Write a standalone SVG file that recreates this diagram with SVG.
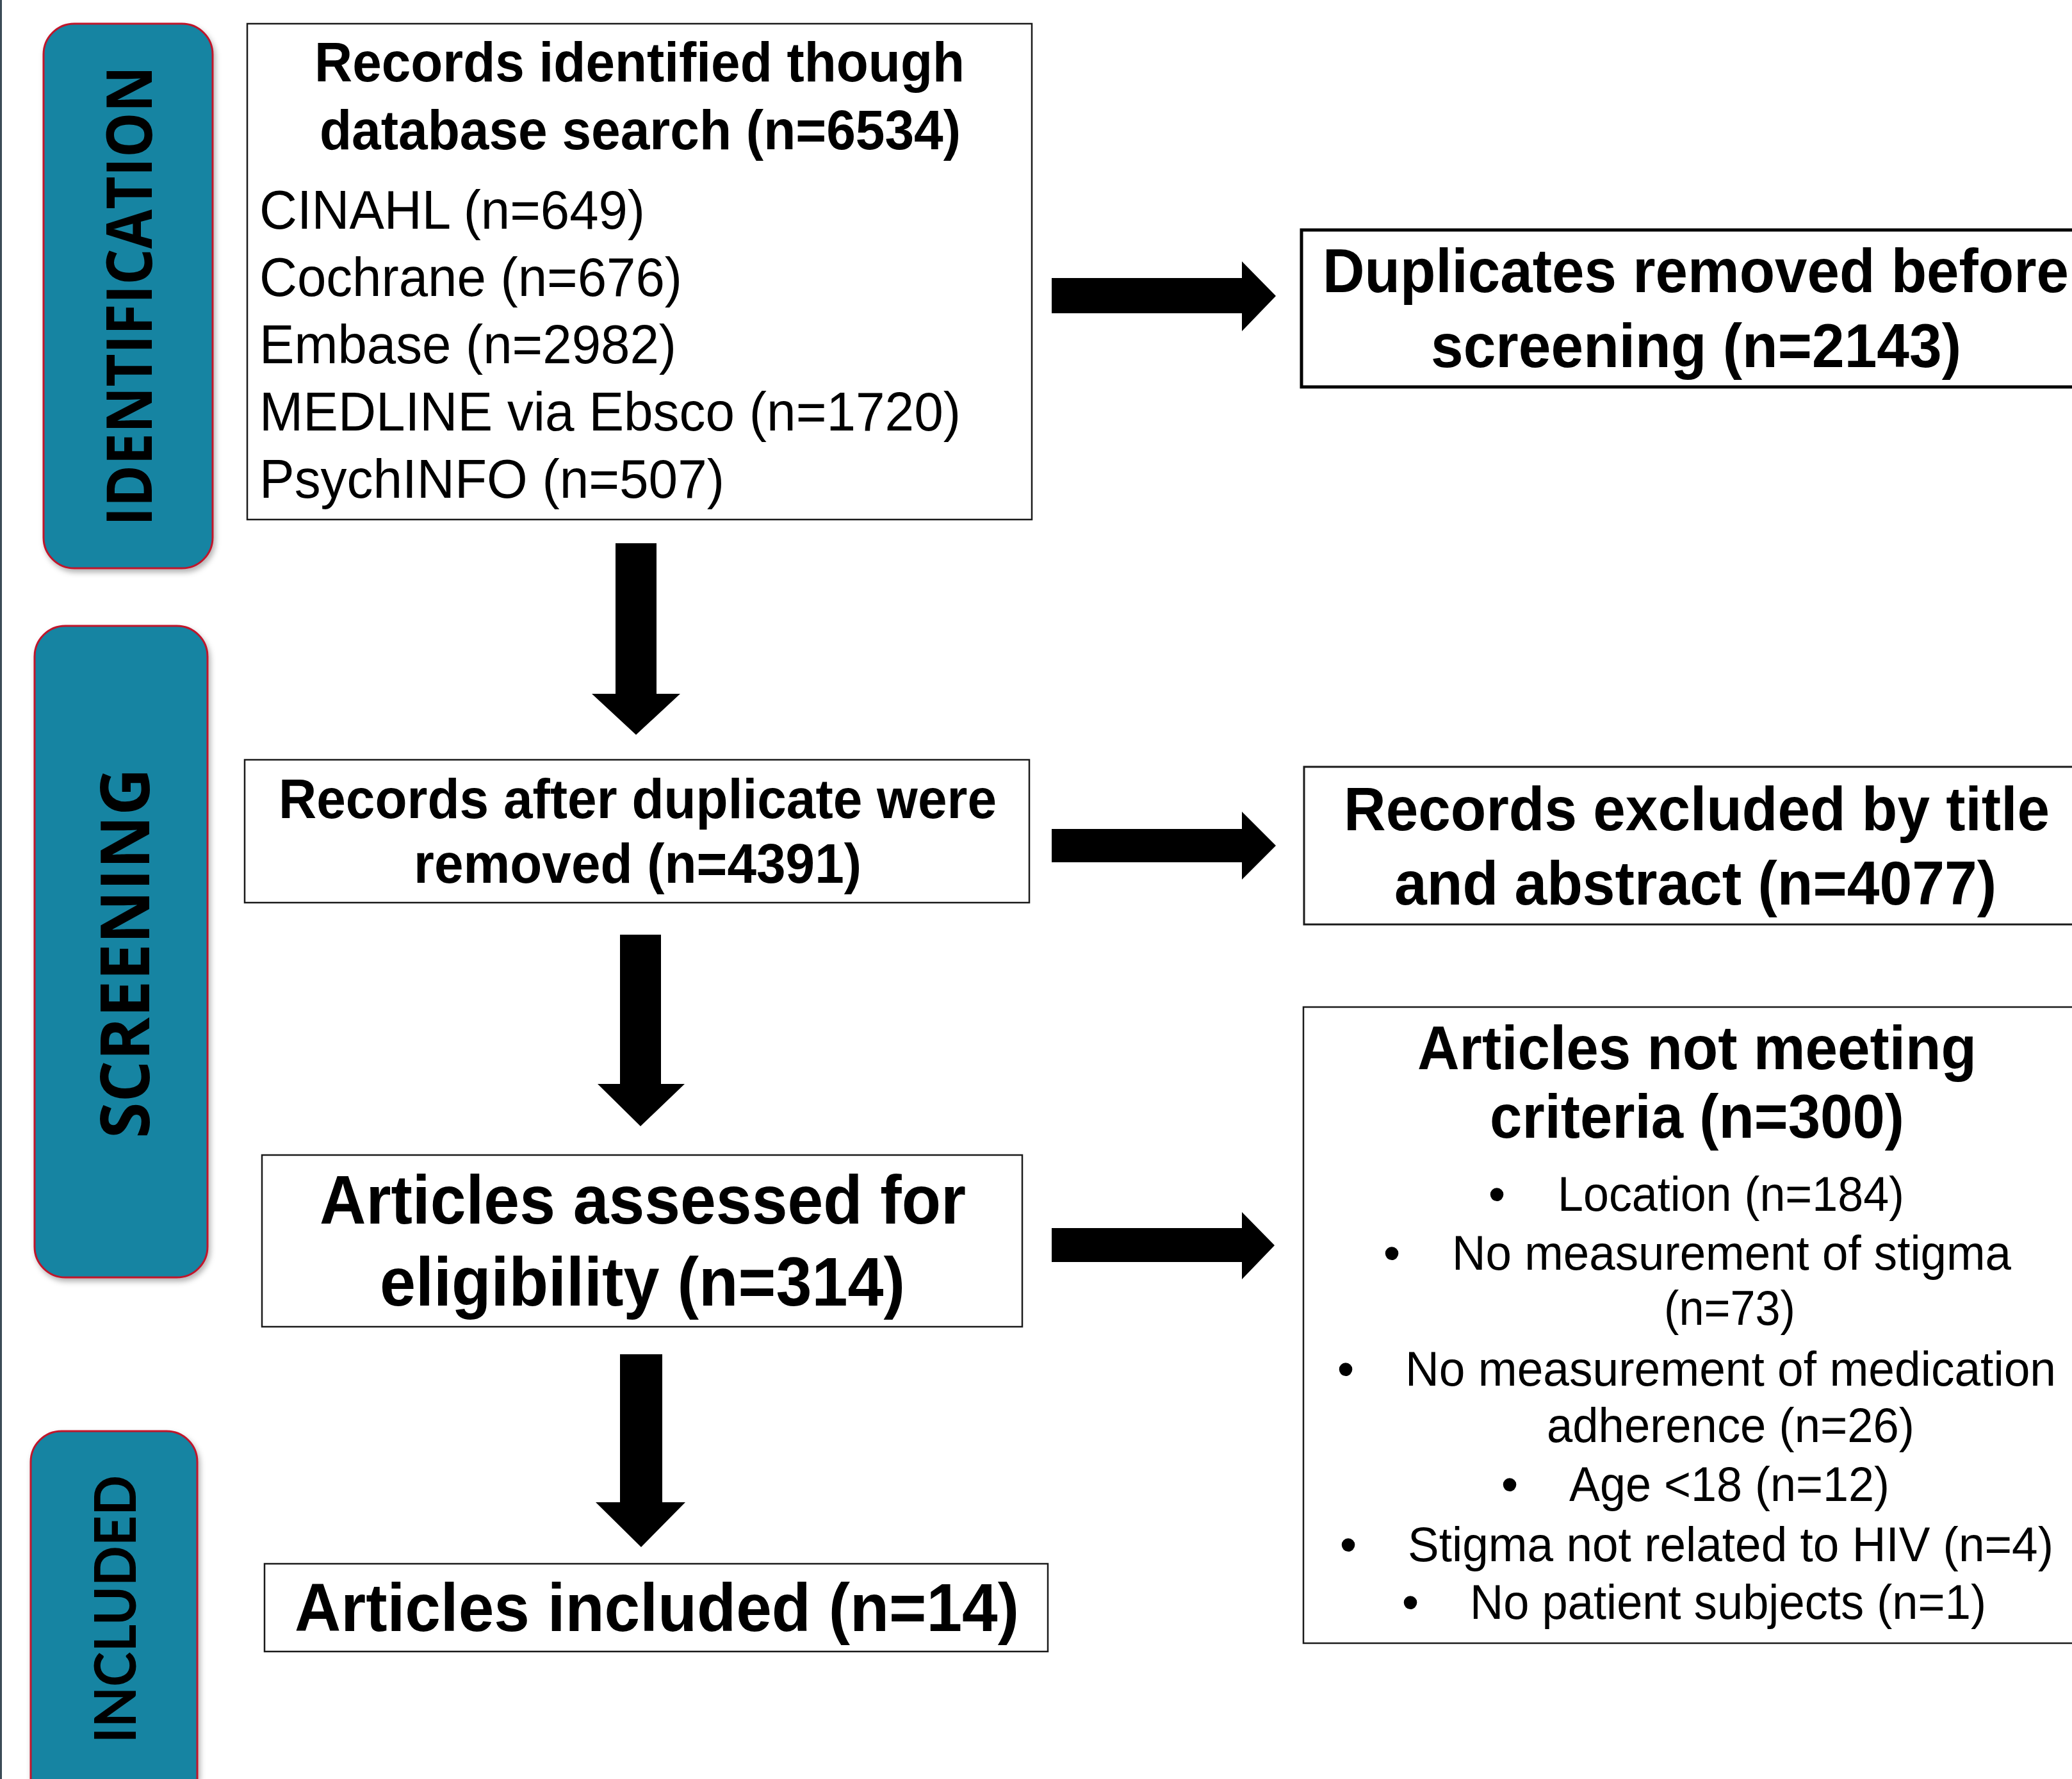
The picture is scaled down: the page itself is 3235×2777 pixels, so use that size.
<svg xmlns="http://www.w3.org/2000/svg" width="3235" height="2777" viewBox="0 0 3235 2777">
<defs>
<style>
.pill{fill:#1684a2;stroke:#c0142c;stroke-width:3}
.box{fill:#ffffff;stroke:#1a1a1a;stroke-width:2.5}
.edge{fill:none;stroke:#1a1a1a;stroke-width:2.5}
.fillw{fill:#ffffff}
.b{font-family:"Liberation Sans",Arial,sans-serif;font-weight:700;fill:#000}
.r{font-family:"Liberation Sans",Arial,sans-serif;font-weight:400;fill:#000}
.side{font-family:"Open Sans","DejaVu Sans",sans-serif;font-weight:700;fill:#000}
.side2{font-family:Lato,"Open Sans",sans-serif;font-weight:700;fill:#000}
.arrow{fill:#000}
</style>
<filter id="sh" x="-10%" y="-10%" width="130%" height="130%">
<feDropShadow dx="3" dy="5" stdDeviation="4" flood-color="#000" flood-opacity="0.3"/>
</filter>
</defs>
<rect x="0" y="0" width="3235" height="2777" fill="#ffffff"/>
<rect x="0" y="0" width="3" height="2777" fill="#3b4b57"/>

<g id="stage-identification">
<rect class="pill" x="68" y="37" width="264" height="850" rx="48" ry="48" filter="url(#sh)"/>
<text class="side" font-size="98" transform="translate(237,821) rotate(-90)" textLength="718" lengthAdjust="spacingAndGlyphs">IDENTIFICATION</text>
</g>
<g id="stage-screening">
<rect class="pill" x="54" y="977" width="270" height="1017" rx="48" ry="48" filter="url(#sh)"/>
<text class="side" font-size="106" transform="translate(233,1777) rotate(-90)" textLength="578" lengthAdjust="spacingAndGlyphs">SCREENING</text>
</g>
<g id="stage-included">
<path class="pill" d="M48,2777 V2282 A48,48 0 0 1 96,2234 H260 A48,48 0 0 1 308,2282 V2777" filter="url(#sh)"/>
<text class="side2" font-size="90" transform="translate(212,2721) rotate(-90)" textLength="418" lengthAdjust="spacingAndGlyphs">INCLUDED</text>
</g>

<g id="records-identified">
<rect class="box" x="386" y="37" width="1225" height="774"/>
<text class="b" font-size="88" x="491" y="127" textLength="1015" lengthAdjust="spacingAndGlyphs">Records identified though</text>
<text class="b" font-size="88" x="499" y="233" textLength="1001" lengthAdjust="spacingAndGlyphs">database search (n=6534)</text>
<text class="r" font-size="86" x="405" y="357" textLength="602" lengthAdjust="spacingAndGlyphs">CINAHL (n=649)</text>
<text class="r" font-size="86" x="405" y="462" textLength="660" lengthAdjust="spacingAndGlyphs">Cochrane (n=676)</text>
<text class="r" font-size="86" x="405" y="567" textLength="651" lengthAdjust="spacingAndGlyphs">Embase (n=2982)</text>
<text class="r" font-size="86" x="405" y="672" textLength="1095" lengthAdjust="spacingAndGlyphs">MEDLINE via Ebsco (n=1720)</text>
<text class="r" font-size="86" x="405" y="777" textLength="726" lengthAdjust="spacingAndGlyphs">PsychINFO (n=507)</text>
</g>

<g id="duplicates-removed">
<rect class="fillw" x="2032" y="359" width="1203" height="245"/>
<path class="edge" d="M3235,359 H2032 V604 H3235" style="stroke:#000;stroke-width:5"/>
<text class="b" font-size="97" x="2065" y="456" textLength="1165" lengthAdjust="spacingAndGlyphs">Duplicates removed before</text>
<text class="b" font-size="97" x="2234" y="573" textLength="828" lengthAdjust="spacingAndGlyphs">screening (n=2143)</text>
</g>

<g id="records-after-duplicates">
<rect class="box" x="382" y="1186" width="1225" height="223"/>
<text class="b" font-size="88" x="435" y="1277" textLength="1121" lengthAdjust="spacingAndGlyphs">Records after duplicate were</text>
<text class="b" font-size="88" x="646" y="1378" textLength="699" lengthAdjust="spacingAndGlyphs">removed (n=4391)</text>
</g>

<g id="records-excluded">
<rect class="fillw" x="2036" y="1197" width="1199" height="246"/>
<path class="edge" d="M3235,1197 H2036 V1443 H3235" style="stroke-width:3"/>
<text class="b" font-size="97" x="2098" y="1296" textLength="1102" lengthAdjust="spacingAndGlyphs">Records excluded by title</text>
<text class="b" font-size="97" x="2177" y="1412" textLength="940" lengthAdjust="spacingAndGlyphs">and abstract (n=4077)</text>
</g>

<g id="articles-assessed">
<rect class="box" x="409" y="1803" width="1187" height="268"/>
<text class="b" font-size="108" x="499" y="1910" textLength="1009" lengthAdjust="spacingAndGlyphs">Articles assessed for</text>
<text class="b" font-size="108" x="593" y="2038" textLength="820" lengthAdjust="spacingAndGlyphs">eligibility (n=314)</text>
</g>

<g id="articles-not-meeting">
<rect class="fillw" x="2035" y="1572" width="1200" height="993"/>
<path class="edge" d="M3235,1572 H2035 V2565 H3235"/>
<text class="b" font-size="96" x="2213" y="1669" textLength="873" lengthAdjust="spacingAndGlyphs">Articles not meeting</text>
<text class="b" font-size="96" x="2326" y="1776" textLength="647" lengthAdjust="spacingAndGlyphs">criteria (n=300)</text>
<text class="r" font-size="76" x="2337" y="1890" text-anchor="middle">•</text>
<text class="r" font-size="76" x="2432" y="1890" textLength="541" lengthAdjust="spacingAndGlyphs">Location (n=184)</text>
<text class="r" font-size="76" x="2173" y="1982" text-anchor="middle">•</text>
<text class="r" font-size="76" x="2267" y="1982" textLength="873" lengthAdjust="spacingAndGlyphs">No measurement of stigma</text>
<text class="r" font-size="76" x="2598" y="2068" textLength="205" lengthAdjust="spacingAndGlyphs">(n=73)</text>
<text class="r" font-size="76" x="2101" y="2163" text-anchor="middle">•</text>
<text class="r" font-size="76" x="2194" y="2163" textLength="1016" lengthAdjust="spacingAndGlyphs">No measurement of medication</text>
<text class="r" font-size="76" x="2415" y="2251" textLength="574" lengthAdjust="spacingAndGlyphs">adherence (n=26)</text>
<text class="r" font-size="76" x="2357" y="2343" text-anchor="middle">•</text>
<text class="r" font-size="76" x="2450" y="2343" textLength="500" lengthAdjust="spacingAndGlyphs">Age &lt;18 (n=12)</text>
<text class="r" font-size="76" x="2105" y="2437" text-anchor="middle">•</text>
<text class="r" font-size="76" x="2198" y="2437" textLength="1008" lengthAdjust="spacingAndGlyphs">Stigma not related to HIV (n=4)</text>
<text class="r" font-size="76" x="2202" y="2527" text-anchor="middle">•</text>
<text class="r" font-size="76" x="2295" y="2527" textLength="806" lengthAdjust="spacingAndGlyphs">No patient subjects (n=1)</text>
</g>

<g id="articles-included">
<rect class="box" x="413" y="2441" width="1223" height="137"/>
<text class="b" font-size="106" x="460" y="2546" textLength="1131" lengthAdjust="spacingAndGlyphs">Articles included (n=14)</text>
</g>

<g id="connectors">
<polygon class="arrow" points="1642,434 1939,434 1939,408 1992,462 1939,517 1939,489 1642,489"/>
<polygon class="arrow" points="1642,1294 1939,1294 1939,1267 1992,1320 1939,1373 1939,1346 1642,1346"/>
<polygon class="arrow" points="1642,1917 1939,1917 1939,1892 1990,1944 1939,1997 1939,1970 1642,1970"/>
<polygon class="arrow" points="961,848 1025,848 1025,1083 1062,1083 993,1147 924,1083 961,1083"/>
<polygon class="arrow" points="968,1459 1032,1459 1032,1692 1069,1692 1000,1758 933,1692 968,1692"/>
<polygon class="arrow" points="968,2114 1034,2114 1034,2345 1070,2345 1001,2415 930,2345 968,2345"/>
</g>
</svg>
